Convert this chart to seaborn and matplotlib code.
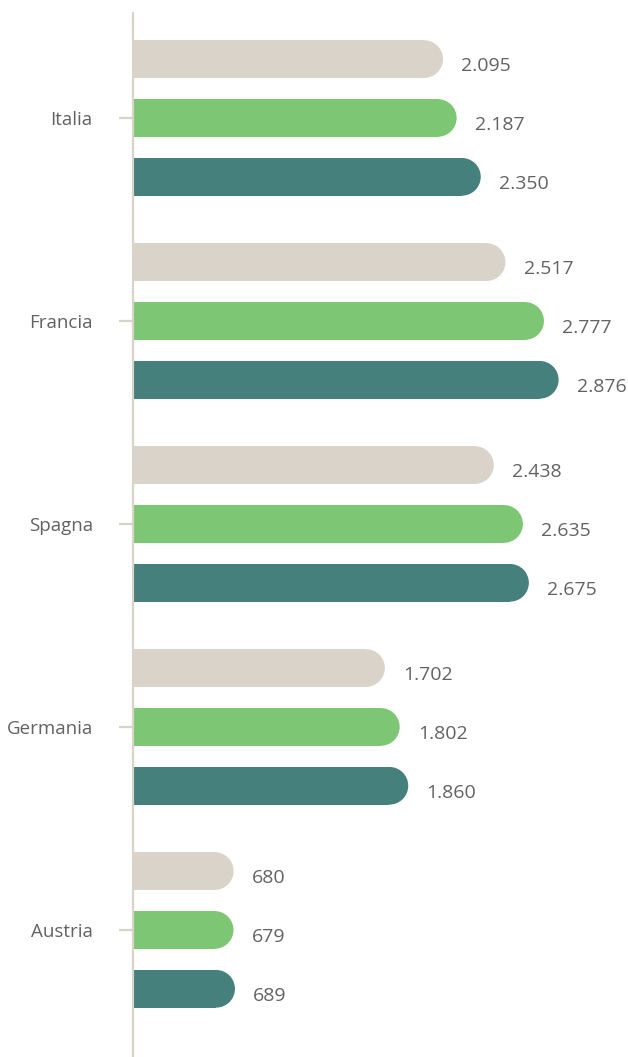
import matplotlib
matplotlib.use("Agg")
import matplotlib.pyplot as plt
from matplotlib.patches import Ellipse
import pandas as pd
import seaborn as sns

paesi = ["Italia", "Francia", "Spagna", "Germania", "Austria"]
serie = ["Serie 1", "Serie 2", "Serie 3"]
valori_1 = [2095, 2517, 2438, 1702, 680]
valori_2 = [2187, 2777, 2635, 1802, 679]
valori_3 = [2350, 2876, 2675, 1860, 689]
colori = ["#d9d3c9", "#7dc673", "#45807c"]

rows = []
for s, vals in zip(serie, [valori_1, valori_2, valori_3]):
    for p, v in zip(paesi, vals):
        rows.append({"paese": p, "serie": s, "valore": v})
df = pd.DataFrame(rows)

sns.set_theme(style="white")
plt.rcParams["font.family"] = ["Open Sans", "DejaVu Sans"]

fig = plt.figure(figsize=(6.28, 10.57), dpi=100)
ax = fig.add_axes([133 / 628, 0, 495 / 628, 1044 / 1057])

sns.barplot(data=df, y="paese", x="valore", hue="serie", orient="h",
            palette=colori, saturation=1, width=0.87, gap=0.36,
            legend=False, linewidth=0, ax=ax)

ax.set_xlim(0, 3345)
ax.set_ylim(4.626, -0.517)

# round the right end of each bar (circular cap in pixels)
p0 = ax.transData.transform((0, 0))
p1 = ax.transData.transform((1000, 1))
px_x = (p1[0] - p0[0]) / 1000
px_y = abs(p1[1] - p0[1])

for bar in list(ax.patches):
    v = bar.get_width()
    if v <= 0:
        continue
    h = bar.get_height()
    y = bar.get_y()
    r = (h * px_y / 2) / px_x
    bar.set_width(v - r)
    ax.add_patch(Ellipse((v - r, y + h / 2), 2 * r, h,
                         facecolor=bar.get_facecolor(), linewidth=0))
    ax.annotate(f"{int(round(v)):,}".replace(",", "."), (v, y + h / 2),
                xytext=(13, -5), textcoords="offset points",
                ha="left", va="center", fontsize=14, color="#626262")

ax.set_xlabel("")
ax.set_ylabel("")
ax.set_xticks([])
for s in ["top", "right", "bottom"]:
    ax.spines[s].set_visible(False)
ax.spines["left"].set_color("#d9d3ca")
ax.spines["left"].set_linewidth(1.6)
ax.tick_params(axis="y", length=10, width=1.6, color="#d9d3ca",
               pad=19, labelsize=13.5, labelcolor="#626262", left=True)

fig.savefig("out.png", dpi=100)
